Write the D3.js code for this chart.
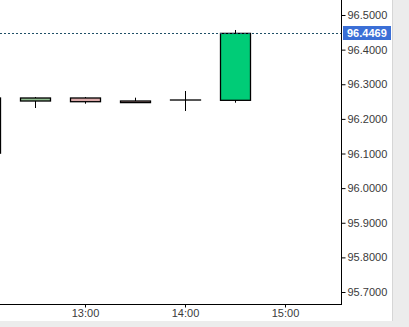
<!DOCTYPE html>
<html>
<head>
<meta charset="utf-8">
<script src="https://cdn.jsdelivr.net/npm/d3@7"></script>
<style>
  html, body { margin: 0; padding: 0; background: #ececec; }
  svg { display: block; }
  .tick text { font-family: "Liberation Sans", Arial, sans-serif; font-size: 11px; fill: #3a3a3a; }
</style>
</head>
<body>
<svg id="chart" width="409" height="327"></svg>
<script>
// candle times (30 minute bars) and OHLC values
var times = ["12:00", "12:30", "13:00", "13:30", "14:00", "14:30"];
var open  = [96.2603, 96.2516, 96.2603, 96.2516, 96.2545, 96.2536];
var high  = [96.2632, 96.2632, 96.2632, 96.2612, 96.2805, 96.4567];
var low   = [96.0950, 96.2314, 96.2438, 96.2470, 96.2227, 96.2467];
var close = [96.1010, 96.2603, 96.2496, 96.2470, 96.2545, 96.4469];
var lastPrice = 96.4469;
var yTicks = [95.7, 95.8, 95.9, 96.0, 96.1, 96.2, 96.3, 96.4, 96.5];
var xTicks = ["13:00", "14:00", "15:00"];

var parseTime = d3.timeParse("%H:%M");

var svg = d3.select("#chart");
var plotW = 341, plotH = 304;

// white panel
svg.append("rect")
    .attr("x", 0).attr("y", 0)
    .attr("width", 392).attr("height", 321)
    .attr("fill", "#ffffff");
svg.append("line")
    .attr("x1", 392.5).attr("x2", 392.5)
    .attr("y1", 0).attr("y2", 321)
    .attr("stroke", "#d6d6d6");

var x = d3.scaleTime()
    .domain([parseTime("12:00"), parseTime("15:30")])
    .range([-15, 335]);

var y = d3.scaleLinear()
    .domain([95.7, 96.5])
    .range([292, 15]);

svg.append("clipPath").attr("id", "plot")
    .append("rect").attr("x", 0).attr("y", 0)
    .attr("width", plotW).attr("height", plotH);

var candles = times.map(function (t, i) {
    return { t: parseTime(t), o: open[i], h: high[i], l: low[i], c: close[i], last: i === times.length - 1 };
});

var g = svg.append("g").attr("clip-path", "url(#plot)");

var bodyW = 30;

// wicks
g.selectAll("line.wick")
    .data(candles)
    .enter().append("line")
    .attr("class", "wick")
    .attr("x1", function (d) { return Math.round(x(d.t)) + 0.5; })
    .attr("x2", function (d) { return Math.round(x(d.t)) + 0.5; })
    .attr("y1", function (d) { return y(d.h); })
    .attr("y2", function (d) { return y(d.l); })
    .attr("stroke", "#000")
    .attr("stroke-width", 1);

// bodies
g.selectAll("rect.body")
    .data(candles)
    .enter().append("rect")
    .attr("class", "body")
    .attr("x", function (d) { return Math.round(x(d.t)) - bodyW / 2 + 0.5; })
    .attr("y", function (d) { return y(Math.max(d.o, d.c)); })
    .attr("width", bodyW)
    .attr("height", function (d) { return Math.max(0.01, Math.abs(y(d.o) - y(d.c))); })
    .attr("fill", function (d) {
        if (d.last) return "#00cc77";
        return d.c >= d.o ? "#8fbc8f" : "#dcaaaa";
    })
    .attr("stroke", "#000")
    .attr("stroke-width", 1.3);

// last price dotted line
svg.append("line")
    .attr("x1", 0).attr("x2", plotW)
    .attr("y1", Math.round(y(lastPrice)) + 0.5)
    .attr("y2", Math.round(y(lastPrice)) + 0.5)
    .attr("stroke", "#1f4f66")
    .attr("stroke-dasharray", "2,2");

// axes
var yAxis = d3.axisRight(y)
    .tickValues(yTicks)
    .tickSize(4)
    .tickPadding(2)
    .tickFormat(d3.format(".4f"));

svg.append("g")
    .attr("transform", "translate(" + (plotW + 0.5) + ",0)")
    .call(yAxis)
    .call(function (s) { s.select(".domain").remove(); });

var xAxis = d3.axisBottom(x)
    .tickValues(xTicks.map(parseTime))
    .tickSize(3)
    .tickPadding(2)
    .tickFormat(d3.timeFormat("%H:%M"));

svg.append("g")
    .attr("transform", "translate(0," + (plotH + 0.5) + ")")
    .call(xAxis)
    .call(function (s) { s.select(".domain").remove(); });

// axis lines
svg.append("line")
    .attr("x1", plotW + 0.5).attr("x2", plotW + 0.5)
    .attr("y1", 0).attr("y2", plotH + 1)
    .attr("stroke", "#000");
svg.append("line")
    .attr("x1", 0).attr("x2", plotW + 1)
    .attr("y1", plotH + 0.5).attr("y2", plotH + 0.5)
    .attr("stroke", "#000");

// last price label
var ly = y(lastPrice);
svg.append("rect")
    .attr("x", 343).attr("y", Math.round(ly) - 7)
    .attr("width", 48).attr("height", 14)
    .attr("fill", "#3b6fd6");
svg.append("text")
    .attr("x", 347).attr("y", ly + 4)
    .attr("font-family", "Liberation Sans, Arial, sans-serif")
    .attr("font-size", 11)
    .attr("font-weight", "bold")
    .attr("fill", "#ffffff")
    .text(d3.format(".4f")(lastPrice));
</script>
</body>
</html>
